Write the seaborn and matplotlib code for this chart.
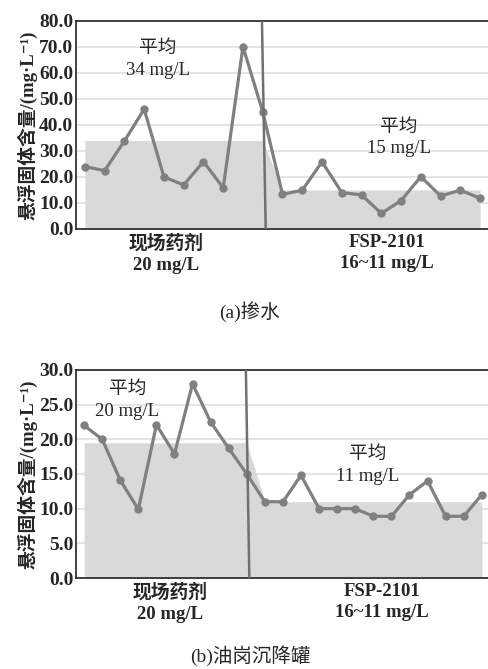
import numpy as np
import pandas as pd
import matplotlib
matplotlib.use("Agg")
import matplotlib.pyplot as plt
import matplotlib.transforms as mtransforms
import seaborn as sns

# (a) 掺水
water_vals = [24.0, 22.4, 33.8, 46.0, 20.0, 16.9, 25.9, 15.8, 70.0, 45.0,
              13.3, 14.9, 25.8, 14.0, 13.1, 6.0, 10.9, 20.1, 12.7, 14.9, 11.8]
water_mean = [34] * 10 + [15] * 11
water_divider = [9.15, 8.96]   # x index at y=0 and y=top

# (b) 油岗沉降罐
tank_vals = [22.0, 20.0, 14.1, 9.9, 22.1, 17.9, 28.0, 22.5, 18.7, 15.0,
             11.0, 11.0, 14.8, 10.0, 10.0, 10.0, 8.9, 8.9, 12.0, 14.0, 8.9, 8.9, 12.0]
tank_mean = [19.5] * 10 + [11] * 13
tank_divider = [9.14, 8.95]

group_labels = ["现场药剂\n20 mg/L", "FSP-2101\n16~11 mg/L"]

sns.set_style("white")
plt.rcParams['font.family'] = ['Liberation Serif', 'Noto Sans CJK SC', 'DejaVu Sans']
plt.rcParams['axes.unicode_minus'] = False

LINE = "#808080"
FILL = "#d9d9d9"
GRID = "#e2e2e2"


def draw_panel(ax, vals, means, divider, ymax, ystep, xmax, avg_left, avg_right,
               lab_x):
    df = pd.DataFrame({"idx": np.arange(len(vals)), "val": vals, "mean": means})
    ax.fill_between(df["idx"], 0, df["mean"], color=FILL, lw=0, zorder=1)
    sns.lineplot(data=df, x="idx", y="val", ax=ax, color=LINE, lw=2.3,
                 marker="o", markersize=6, markeredgewidth=0, zorder=3)
    ax.plot(divider, [0, ymax], color="#707070", lw=1.8, zorder=4)

    ax.set_xlim(-0.45, xmax)
    ax.set_ylim(0, ymax)
    ticks = np.arange(0, ymax + 0.01, ystep)
    ax.set_yticks(ticks)
    ax.set_yticklabels([f"{v:.1f}" for v in ticks], fontsize=14, fontweight="bold")
    ax.set_xticks([])
    ax.yaxis.grid(True, color=GRID, lw=1.3, zorder=0)
    ax.set_axisbelow(True)
    ax.tick_params(axis="y", length=0, pad=2)
    ax.set_xlabel("")
    ax.set_ylabel("悬浮固体含量/(mg·L⁻¹)", fontsize=13.5, fontweight="bold",
                  labelpad=1)
    for side in ["left", "top", "bottom"]:
        ax.spines[side].set_color("#222222")
        ax.spines[side].set_linewidth(1.2)
    ax.spines["right"].set_visible(False)

    for (x, y, m) in [avg_left, avg_right]:
        ax.text(x, y, f"平均\n{m} mg/L", ha="center", va="center",
                fontsize=13.5, linespacing=1.35)

    trans = mtransforms.blended_transform_factory(ax.transData, ax.transAxes)
    for x, lab in zip(lab_x, group_labels):
        ax.text(x, -0.025, lab, transform=trans, ha="center", va="top",
                fontsize=13.5, fontweight="bold", linespacing=1.3)


fig = plt.figure(figsize=(4.89, 6.69), dpi=100)
ax1 = fig.add_axes([0.1554, 0.6577, 0.8446, 0.3114])
ax2 = fig.add_axes([0.1554, 0.136, 0.8446, 0.311])

draw_panel(ax1, water_vals, water_mean, water_divider, 80, 10, 20.45,
           (3.7, 65.0, 34), (15.9, 35.0, 15), (4.1, 15.3))
draw_panel(ax2, tank_vals, tank_mean, tank_divider, 30, 5, 22.4,
           (2.4, 25.6, 20), (15.7, 16.2, 11), (4.75, 16.5))

fig.text(0.511, 0.534, "(a)掺水", ha="center", va="center", fontsize=14)
fig.text(0.511, 0.004, "(b)油岗沉降罐", ha="center", va="bottom", fontsize=14)

fig.savefig("out.png", dpi=100)
